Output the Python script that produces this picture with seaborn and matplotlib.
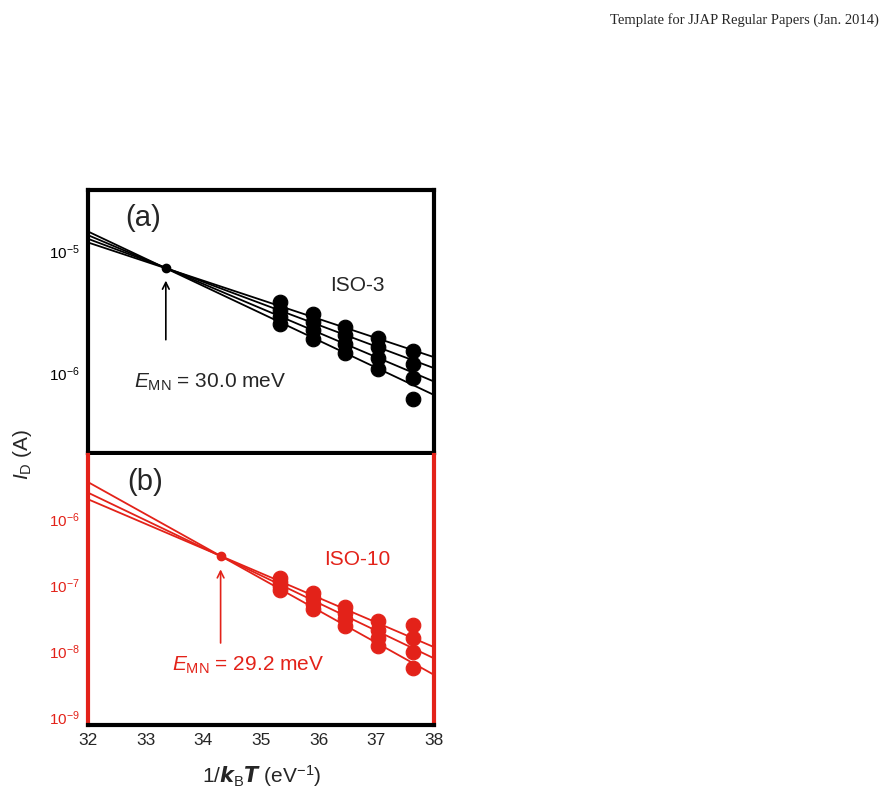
import numpy as np
import pandas as pd
import matplotlib
matplotlib.use("Agg")
import matplotlib.pyplot as plt
import seaborn as sns

sns.set_theme(style="white")
plt.rcParams['font.family'] = ['Liberation Sans', 'DejaVu Sans']
plt.rcParams['mathtext.fontset'] = 'custom'
plt.rcParams['mathtext.rm'] = 'Liberation Sans'
plt.rcParams['mathtext.it'] = 'Liberation Sans:italic'
plt.rcParams['mathtext.bf'] = 'Liberation Sans:bold'

RED = "#e32219"
x_cols = [35.33, 35.9, 36.45, 37.03, 37.63]

# panel (a) ISO-3: log10(I_D) of points, 4 per column
a_pts = [[-5.42, -5.48, -5.54, -5.60],
         [-5.52, -5.58, -5.65, -5.72],
         [-5.62, -5.69, -5.76, -5.84],
         [-5.71, -5.79, -5.88, -5.97],
         [-5.82, -5.93, -6.04, -6.21]]
a_line_start = [-4.93, -4.90, -4.87, -4.84]   # log10 at x=32
a_line_end = [-5.87, -5.96, -6.07, -6.18]     # log10 at x=38
a_pivot = (33.35, -5.14)

# panel (b) ISO-10
b_pts = [[-6.90, -6.96, -7.02, -7.08],
         [-7.12, -7.20, -7.28, -7.36],
         [-7.33, -7.43, -7.52, -7.62],
         [-7.55, -7.68, -7.80, -7.92],
         [-7.61, -7.80, -8.02, -8.26]]
b_line_start = [-5.70, -5.60, -5.44]
b_line_end = [-7.94, -8.11, -8.36]
b_pivot = (34.3, -6.56)

fig = plt.figure(figsize=(8.86, 7.98), dpi=100)
fig.text(0.992, 0.975, "Template for JJAP Regular Papers (Jan. 2014)", ha="right", va="center",
         family="Liberation Serif", fontsize=10.5)
axa = fig.add_axes([0.0993, 0.4323, 0.3905, 0.3296])
axb = fig.add_axes([0.0993, 0.0915, 0.3905, 0.3383])

def panel(ax, pts, ls, le, piv, color, ylim, yticks):
    df = pd.DataFrame([(x, 10**v) for x, col in zip(x_cols, pts) for v in col], columns=["x", "y"])
    for s, e in zip(ls, le):
        sns.lineplot(x=[32, 38], y=[10**s, 10**e], ax=ax, color=color, lw=1.3)
    sns.scatterplot(data=df, x="x", y="y", ax=ax, color=color, s=110, edgecolor=color, zorder=5)
    ax.plot([piv[0]], [10**piv[1]], 'o', color=color, ms=6, zorder=6)
    ax.set_yscale("log")
    ax.set_xlim(32, 38)
    ax.set_ylim(*ylim)
    ax.set_yticks(yticks)
    ax.minorticks_off()
    ax.set_yticks([], minor=True)
    ax.set_xlabel(""); ax.set_ylabel("")
    ax.tick_params(axis="y", direction="in", length=10, width=3, colors=color, labelsize=11, pad=6)
    ax.tick_params(axis="y", labelcolor=color)
    ax.tick_params(axis="x", direction="in", length=9, width=3, color="black", labelsize=12.5)

panel(axa, a_pts, a_line_start, a_line_end, a_pivot, "black", (10**-4.5, 10**-6.656), [1e-5, 1e-6])
panel(axb, b_pts, b_line_start, b_line_end, b_pivot, RED, (10**-5.03, 10**-9.12), [1e-6, 1e-7, 1e-8, 1e-9])
axa.set_ylim(10**-6.656, 10**-4.5)
axb.set_ylim(10**-9.12, 10**-5.03)
axa.set_xticks([33, 34, 35, 36, 37]); axa.set_xticklabels([])
axb.set_xticks([32, 33, 34, 35, 36, 37, 38])
axb.tick_params(axis="x", pad=6)
for sp in axa.spines.values():
    sp.set_color("black"); sp.set_linewidth(3)
for k, sp in axb.spines.items():
    sp.set_linewidth(3)
    sp.set_color(RED if k in ("left", "right") else "black")
axb.spines["top"].set_visible(False)

axa.text(32.65, 10**-4.73, "(a)", fontsize=21, va="center")
axa.text(36.2, 10**-5.28, "ISO-3", fontsize=15, va="center")
axa.text(32.8, 10**-6.08, r"$E_{\mathrm{MN}}$ = 30.0 meV", fontsize=15, va="center")
axa.annotate("", xy=(a_pivot[0], 10**-5.22), xytext=(a_pivot[0], 10**-5.75),
             arrowprops=dict(arrowstyle="->", color="black", lw=1.2))
axb.text(32.68, 10**-5.44, "(b)", fontsize=21, va="center")
axb.text(36.1, 10**-6.62, "ISO-10", fontsize=15, va="center", color=RED)
axb.text(33.45, 10**-8.21, r"$E_{\mathrm{MN}}$ = 29.2 meV", fontsize=15, va="center", color=RED)
axb.annotate("", xy=(b_pivot[0], 10**-6.72), xytext=(b_pivot[0], 10**-7.92),
             arrowprops=dict(arrowstyle="->", color=RED, lw=1.2))

fig.text(0.025, 0.43, r"$I_{\mathrm{D}}$ (A)", rotation=90, ha="center", va="center", fontsize=15)
fig.text(0.295, 0.028, r"1/$\boldsymbol{k}_{\mathrm{B}}\boldsymbol{T}$ (eV$^{-1}$)", ha="center", va="center", fontsize=15)

fig.savefig("out.png", dpi=100)
